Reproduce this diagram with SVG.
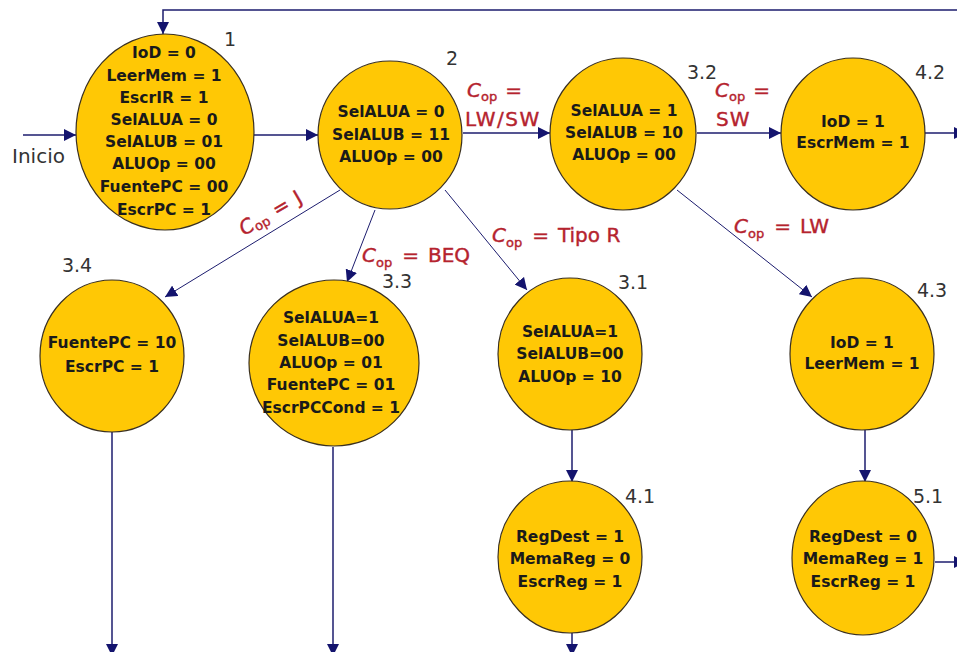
<svg xmlns="http://www.w3.org/2000/svg" width="957" height="652" viewBox="0 0 957 652">
  <defs>
    <marker id="arrow" markerUnits="userSpaceOnUse" markerWidth="13" markerHeight="12" refX="12" refY="6" orient="auto">
      <path d="M0,0 L12,6 L0,12 Z" fill="#14146e"/>
    </marker>
    <style>
      .state { fill: #FFC805; stroke: #3a3020; stroke-width: 1.2; }
      .body { font-family: "DejaVu Sans", "Liberation Sans", sans-serif; font-weight: bold; font-size: 15.5px; fill: #1a1a1a; text-anchor: middle; }
      .num { font-family: "DejaVu Sans", "Liberation Sans", sans-serif; font-size: 19px; fill: #333; text-anchor: middle; }
      .start { font-family: "DejaVu Sans", "Liberation Sans", sans-serif; font-size: 20px; fill: #333; }
      .edge { fill: none; stroke: #1c1c6e; stroke-width: 1.5; marker-end: url(#arrow); }
      .thin { stroke-width: 1; }
      .cond { font-family: "DejaVu Sans", "Liberation Sans", sans-serif; font-size: 20px; fill: #b5232e; stroke: #b5232e; stroke-width: 0.4; }
      .c { font-style: italic; }
      .sub { font-size: 13px; }
    </style>
  </defs>

  <rect width="957" height="652" fill="#ffffff"/>

  <!-- transitions -->
  <g id="connectors">
    <line class="edge" x1="23" y1="135" x2="76" y2="135"/>
    <path class="edge" d="M957,10 H163 V34"/>
    <line class="edge" x1="254" y1="135" x2="318" y2="135"/>
    <line class="edge" x1="463" y1="133" x2="550" y2="133"/>
    <line class="edge" x1="697" y1="133" x2="781" y2="133"/>
    <line class="edge" x1="925" y1="133" x2="966" y2="133"/>
    <line class="edge thin" x1="340" y1="190" x2="165" y2="297"/>
    <line class="edge thin" x1="375" y1="210" x2="347" y2="282"/>
    <line class="edge thin" x1="445" y1="190" x2="527" y2="290"/>
    <line class="edge thin" x1="677" y1="190" x2="812" y2="297"/>
    <line class="edge" x1="572" y1="430" x2="572" y2="482"/>
    <line class="edge" x1="865" y1="430" x2="865" y2="482"/>
    <line class="edge" x1="572" y1="633" x2="572" y2="656"/>
    <line class="edge" x1="112" y1="432" x2="112" y2="656"/>
    <line class="edge" x1="333" y1="447" x2="333" y2="656"/>
    <line class="edge" x1="935" y1="562" x2="966" y2="562"/>
  </g>

  <!-- start label and transition conditions -->
  <g id="conditions">
    <text class="start" x="12" y="163">Inicio</text>
    <text class="cond" x="467" y="97"><tspan class="c">C</tspan><tspan class="sub" dy="4">op</tspan><tspan dy="-4" dx="8">=</tspan></text>
    <text class="cond" x="465" y="126" letter-spacing="1.5">LW/SW</text>
    <text class="cond" x="715" y="97"><tspan class="c">C</tspan><tspan class="sub" dy="4">op</tspan><tspan dy="-4" dx="8">=</tspan></text>
    <text class="cond" x="716" y="126" letter-spacing="1">SW</text>
    <text class="cond" x="734" y="233"><tspan class="c">C</tspan><tspan class="sub" dy="5">op</tspan><tspan dy="-5" dx="10">=</tspan><tspan dx="9">LW</tspan></text>
    <text class="cond" x="492" y="242"><tspan class="c">C</tspan><tspan class="sub" dy="5">op</tspan><tspan dy="-5" dx="10">=</tspan><tspan dx="9">Tipo R</tspan></text>
    <text class="cond" x="362" y="262"><tspan class="c">C</tspan><tspan class="sub" dy="5">op</tspan><tspan dy="-5" dx="10">=</tspan><tspan dx="9">BEQ</tspan></text>
    <text class="cond" x="244" y="236" transform="rotate(-30 244 236)"><tspan class="c">C</tspan><tspan class="sub" dy="3">op</tspan><tspan dy="-3" dx="8">=</tspan><tspan dx="8">J</tspan></text>
  </g>

  <g id="s1">
    <ellipse class="state" cx="165" cy="132" rx="89" ry="98"/>
    <text class="num" x="230" y="46">1</text>
    <text class="body" x="164" y="58">IoD = 0</text>
    <text class="body" x="164" y="81">LeerMem = 1</text>
    <text class="body" x="164" y="103">EscrIR = 1</text>
    <text class="body" x="164" y="125">SelALUA = 0</text>
    <text class="body" x="164" y="147">SelALUB = 01</text>
    <text class="body" x="164" y="169">ALUOp = 00</text>
    <text class="body" x="164" y="192">FuentePC = 00</text>
    <text class="body" x="164" y="215">EscrPC = 1</text>
  </g>

  <g id="s2">
    <ellipse class="state" cx="390" cy="135" rx="72" ry="74"/>
    <text class="num" x="452" y="65">2</text>
    <text class="body" x="391" y="117">SelALUA = 0</text>
    <text class="body" x="391" y="140">SelALUB = 11</text>
    <text class="body" x="391" y="162">ALUOp = 00</text>
  </g>

  <g id="s3_2">
    <ellipse class="state" cx="623" cy="134" rx="73" ry="76"/>
    <text class="num" x="702" y="79">3.2</text>
    <text class="body" x="624" y="116">SelALUA = 1</text>
    <text class="body" x="624" y="138">SelALUB = 10</text>
    <text class="body" x="624" y="160">ALUOp = 00</text>
  </g>

  <g id="s4_2">
    <ellipse class="state" cx="853" cy="134" rx="72" ry="76"/>
    <text class="num" x="930" y="79">4.2</text>
    <text class="body" x="853" y="127">IoD = 1</text>
    <text class="body" x="853" y="148">EscrMem = 1</text>
  </g>

  <g id="s3_4">
    <ellipse class="state" cx="112" cy="356" rx="72" ry="76"/>
    <text class="num" x="77" y="272">3.4</text>
    <text class="body" x="112" y="348">FuentePC = 10</text>
    <text class="body" x="112" y="372">EscrPC = 1</text>
  </g>

  <g id="s3_3">
    <ellipse class="state" cx="334" cy="363" rx="85" ry="83"/>
    <text class="num" x="397" y="288">3.3</text>
    <text class="body" x="331" y="323">SelALUA=1</text>
    <text class="body" x="331" y="346">SelALUB=00</text>
    <text class="body" x="331" y="368">ALUOp = 01</text>
    <text class="body" x="331" y="390">FuentePC = 01</text>
    <text class="body" x="331" y="413">EscrPCCond = 1</text>
  </g>

  <g id="s3_1">
    <ellipse class="state" cx="570" cy="354" rx="72" ry="76"/>
    <text class="num" x="633" y="289">3.1</text>
    <text class="body" x="570" y="337">SelALUA=1</text>
    <text class="body" x="570" y="359">SelALUB=00</text>
    <text class="body" x="570" y="382">ALUOp = 10</text>
  </g>

  <g id="s4_3">
    <ellipse class="state" cx="862" cy="354" rx="72" ry="76"/>
    <text class="num" x="932" y="297">4.3</text>
    <text class="body" x="862" y="348">IoD = 1</text>
    <text class="body" x="862" y="369">LeerMem = 1</text>
  </g>

  <g id="s4_1">
    <ellipse class="state" cx="570" cy="557" rx="72" ry="76"/>
    <text class="num" x="640" y="503">4.1</text>
    <text class="body" x="570" y="542">RegDest = 1</text>
    <text class="body" x="570" y="564">MemaReg = 0</text>
    <text class="body" x="570" y="587">EscrReg = 1</text>
  </g>

  <g id="s5_1">
    <ellipse class="state" cx="863" cy="558" rx="71" ry="77"/>
    <text class="num" x="928" y="503">5.1</text>
    <text class="body" x="863" y="542">RegDest = 0</text>
    <text class="body" x="863" y="564">MemaReg = 1</text>
    <text class="body" x="863" y="587">EscrReg = 1</text>
  </g>
</svg>
